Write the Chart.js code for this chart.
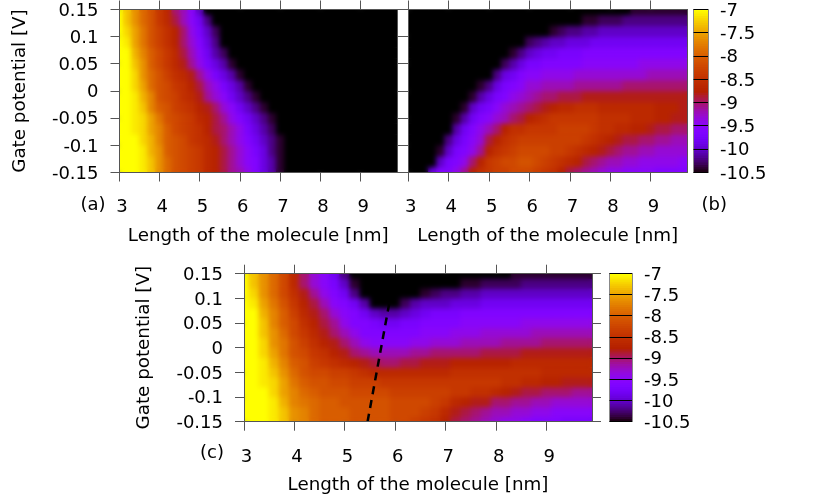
<!DOCTYPE html>
<html>
<head>
<meta charset="utf-8">
<style>
body { margin: 0; background: #fff; }
canvas { position: absolute; }
</style>
<script src="https://cdn.jsdelivr.net/npm/chart.js@4/dist/chart.umd.min.js"></script>
</head>
<body>
<canvas id="panelA" width="407" height="250" style="left:0;top:0"></canvas>
<canvas id="panelB" width="335" height="250" style="left:400px;top:0"></canvas>
<canvas id="barAB" width="140" height="190" style="left:690px;top:0"></canvas>
<canvas id="panelC" width="505" height="248" style="left:100px;top:250px"></canvas>
<canvas id="barC" width="225" height="175" style="left:605px;top:260px"></canvas>
<script>
var xCols = [3, 3.2, 3.4, 3.6, 3.8, 4, 4.2, 4.4, 4.6, 4.8, 5, 5.2, 5.4, 5.6, 5.8, 6, 6.2, 6.4, 6.6, 6.8, 7, 7.2, 7.4, 7.6, 7.8, 8, 8.2, 8.4, 8.6, 8.8, 9, 9.2, 9.4, 9.6, 9.8];
var yRows = [-0.15, -0.13, -0.11, -0.09, -0.07, -0.05, -0.03, -0.01, 0.01, 0.03, 0.05, 0.07, 0.09, 0.11, 0.13, 0.15];
var xTicks = [3, 4, 5, 6, 7, 8, 9];
var yTicks = [-0.15, -0.1, -0.05, 0, 0.05, 0.1, 0.15];
var cbTicks = [-10.5, -10, -9.5, -9, -8.5, -8, -7.5, -7];
var cbLevels = [-10.5, -10.45, -10.4, -10.35, -10.3, -10.25, -10.2, -10.15, -10.1, -10.05, -10, -9.95, -9.9, -9.85, -9.8, -9.75, -9.7, -9.65, -9.6, -9.55, -9.5, -9.45, -9.4, -9.35, -9.3, -9.25, -9.2, -9.15, -9.1, -9.05, -9, -8.95, -8.9, -8.85, -8.8, -8.75, -8.7, -8.65, -8.6, -8.55, -8.5, -8.45, -8.4, -8.35, -8.3, -8.25, -8.2, -8.15, -8.1, -8.05, -8, -7.95, -7.9, -7.85, -7.8, -7.75, -7.7, -7.65, -7.6, -7.55, -7.5, -7.45, -7.4, -7.35, -7.3, -7.25, -7.2, -7.15, -7.1, -7.05, -7];
var dashX = [5.45, 5.88];
var dashY = [-0.15, 0.09];

// one row per gate potential, bottom row first
var valuesA = [
  [-7,-7,-7,-7.1,-7.3,-7.6,-7.9,-8.1,-8.2,-8.3,-8.4,-8.6,-8.7,-8.9,-9.1,-9.2,-9.4,-9.6,-9.9,-10.1,-10.4,-11,-11,-11,-11,-11,-11,-11,-11,-11,-11,-11,-11,-11,-11],
  [-7,-7,-7,-7.1,-7.3,-7.6,-7.9,-8.1,-8.2,-8.3,-8.4,-8.6,-8.7,-8.9,-9.1,-9.3,-9.5,-9.6,-9.9,-10.1,-10.4,-11,-11,-11,-11,-11,-11,-11,-11,-11,-11,-11,-11,-11,-11],
  [-7,-7,-7,-7.1,-7.4,-7.6,-8,-8.1,-8.2,-8.3,-8.4,-8.6,-8.7,-8.9,-9.1,-9.3,-9.5,-9.7,-9.9,-10.2,-10.4,-11,-11,-11,-11,-11,-11,-11,-11,-11,-11,-11,-11,-11,-11],
  [-7,-7,-7,-7.2,-7.4,-7.7,-8,-8.1,-8.2,-8.4,-8.5,-8.6,-8.8,-9,-9.2,-9.4,-9.6,-9.8,-10,-10.2,-10.4,-11,-11,-11,-11,-11,-11,-11,-11,-11,-11,-11,-11,-11,-11],
  [-7,-7,-7.1,-7.2,-7.5,-7.7,-8,-8.2,-8.3,-8.4,-8.5,-8.7,-8.9,-9,-9.2,-9.4,-9.7,-9.9,-10.1,-10.3,-10.5,-11,-11,-11,-11,-11,-11,-11,-11,-11,-11,-11,-11,-11,-11],
  [-7,-7,-7.1,-7.2,-7.5,-7.8,-8.1,-8.2,-8.3,-8.4,-8.6,-8.7,-8.9,-9.1,-9.4,-9.6,-9.8,-10,-10.2,-10.4,-11,-11,-11,-11,-11,-11,-11,-11,-11,-11,-11,-11,-11,-11,-11],
  [-7,-7,-7.1,-7.3,-7.7,-8,-8.1,-8.3,-8.4,-8.5,-8.7,-8.8,-9,-9.3,-9.5,-9.8,-10,-10.2,-10.4,-11,-11,-11,-11,-11,-11,-11,-11,-11,-11,-11,-11,-11,-11,-11,-11],
  [-7,-7,-7.1,-7.4,-7.7,-8.1,-8.2,-8.3,-8.5,-8.6,-8.8,-9.1,-9.3,-9.5,-9.8,-10,-10.2,-10.4,-11,-11,-11,-11,-11,-11,-11,-11,-11,-11,-11,-11,-11,-11,-11,-11,-11],
  [-7,-7,-7.2,-7.5,-7.9,-8.1,-8.2,-8.4,-8.5,-8.7,-8.9,-9.2,-9.4,-9.7,-9.9,-10.1,-10.4,-11,-11,-11,-11,-11,-11,-11,-11,-11,-11,-11,-11,-11,-11,-11,-11,-11,-11],
  [-7,-7,-7.2,-7.6,-7.9,-8.1,-8.3,-8.5,-8.6,-8.8,-9.1,-9.4,-9.7,-9.9,-10.1,-10.4,-11,-11,-11,-11,-11,-11,-11,-11,-11,-11,-11,-11,-11,-11,-11,-11,-11,-11,-11],
  [-7,-7,-7.3,-7.6,-8,-8.2,-8.4,-8.6,-8.8,-9.1,-9.4,-9.7,-9.9,-10.1,-10.4,-11,-11,-11,-11,-11,-11,-11,-11,-11,-11,-11,-11,-11,-11,-11,-11,-11,-11,-11,-11],
  [-7,-7,-7.4,-7.7,-8,-8.2,-8.4,-8.6,-8.9,-9.2,-9.5,-9.8,-10.1,-10.3,-11,-11,-11,-11,-11,-11,-11,-11,-11,-11,-11,-11,-11,-11,-11,-11,-11,-11,-11,-11,-11],
  [-7,-7.1,-7.5,-7.8,-8.1,-8.3,-8.5,-8.7,-9,-9.3,-9.6,-9.9,-10.2,-10.5,-11,-11,-11,-11,-11,-11,-11,-11,-11,-11,-11,-11,-11,-11,-11,-11,-11,-11,-11,-11,-11],
  [-7,-7.2,-7.5,-7.8,-8.1,-8.3,-8.5,-8.7,-9,-9.4,-9.7,-10,-10.3,-11,-11,-11,-11,-11,-11,-11,-11,-11,-11,-11,-11,-11,-11,-11,-11,-11,-11,-11,-11,-11,-11],
  [-7,-7.3,-7.6,-7.9,-8.1,-8.4,-8.6,-8.9,-9.2,-9.5,-9.8,-10.2,-11,-11,-11,-11,-11,-11,-11,-11,-11,-11,-11,-11,-11,-11,-11,-11,-11,-11,-11,-11,-11,-11,-11],
  [-7,-7.3,-7.6,-7.9,-8.1,-8.4,-8.6,-9,-9.2,-9.5,-10,-10.5,-11,-11,-11,-11,-11,-11,-11,-11,-11,-11,-11,-11,-11,-11,-11,-11,-11,-11,-11,-11,-11,-11,-11]
];
var valuesB = [
  [-11,-11,-10.6,-9.9,-9.6,-9.6,-9.4,-9.1,-8.7,-8.5,-8.4,-8.3,-8.3,-8.2,-8.2,-8.2,-8.3,-8.4,-8.5,-8.7,-8.9,-9,-9.1,-9.2,-9.3,-9.4,-9.4,-9.5,-9.5,-9.5,-9.5,-9.6,-9.6,-9.6,-9.6],
  [-11,-11,-11,-10.5,-10,-9.7,-9.6,-9.4,-9,-8.7,-8.4,-8.3,-8.2,-8.2,-8.1,-8.1,-8.2,-8.3,-8.4,-8.5,-8.6,-8.7,-8.9,-9,-9.1,-9.2,-9.2,-9.3,-9.3,-9.4,-9.4,-9.4,-9.4,-9.4,-9.5],
  [-11,-11,-11,-11,-10.4,-10,-9.7,-9.6,-9.4,-9.1,-8.7,-8.5,-8.4,-8.3,-8.2,-8.2,-8.2,-8.2,-8.3,-8.3,-8.4,-8.5,-8.6,-8.7,-8.8,-8.9,-9,-9.1,-9.1,-9.2,-9.2,-9.3,-9.3,-9.3,-9.3],
  [-11,-11,-11,-11,-10.6,-10.2,-9.9,-9.7,-9.5,-9.3,-8.9,-8.7,-8.5,-8.4,-8.3,-8.3,-8.3,-8.3,-8.3,-8.3,-8.3,-8.3,-8.4,-8.5,-8.6,-8.7,-8.8,-8.9,-8.9,-9,-9,-9.1,-9.1,-9.2,-9.2],
  [-11,-11,-11,-11,-11,-10.5,-10.1,-9.8,-9.6,-9.4,-9.2,-9,-8.7,-8.5,-8.5,-8.4,-8.4,-8.4,-8.4,-8.3,-8.3,-8.3,-8.3,-8.4,-8.5,-8.5,-8.6,-8.6,-8.7,-8.7,-8.8,-8.9,-8.9,-9,-9],
  [-11,-11,-11,-11,-11,-11,-10.4,-10.1,-9.8,-9.6,-9.5,-9.3,-9.2,-9,-8.9,-8.7,-8.6,-8.5,-8.4,-8.4,-8.4,-8.4,-8.4,-8.4,-8.5,-8.5,-8.5,-8.5,-8.6,-8.6,-8.6,-8.7,-8.7,-8.8,-8.8],
  [-11,-11,-11,-11,-11,-11,-11,-10.4,-10,-9.8,-9.7,-9.5,-9.3,-9.2,-9.1,-9,-8.9,-8.8,-8.7,-8.6,-8.6,-8.5,-8.5,-8.5,-8.6,-8.6,-8.6,-8.6,-8.6,-8.6,-8.6,-8.7,-8.7,-8.7,-8.8],
  [-11,-11,-11,-11,-11,-11,-11,-11,-10.4,-10.1,-9.9,-9.7,-9.6,-9.4,-9.3,-9.2,-9.1,-9,-9,-8.9,-8.9,-8.9,-8.8,-8.8,-8.8,-8.8,-8.8,-8.8,-8.8,-8.8,-8.8,-8.8,-8.8,-8.8,-8.8],
  [-11,-11,-11,-11,-11,-11,-11,-11,-11,-10.4,-10.2,-9.9,-9.7,-9.6,-9.5,-9.3,-9.3,-9.2,-9.2,-9.2,-9.2,-9.1,-9.1,-9.1,-9.1,-9.1,-9.1,-9,-9,-9,-9,-9,-9,-9,-9],
  [-11,-11,-11,-11,-11,-11,-11,-11,-11,-11,-10.5,-10.2,-9.9,-9.8,-9.6,-9.5,-9.5,-9.4,-9.4,-9.4,-9.4,-9.3,-9.3,-9.3,-9.3,-9.3,-9.3,-9.3,-9.3,-9.3,-9.2,-9.2,-9.2,-9.2,-9.2],
  [-11,-11,-11,-11,-11,-11,-11,-11,-11,-11,-11,-11,-10.3,-10.1,-9.9,-9.7,-9.7,-9.6,-9.6,-9.6,-9.6,-9.6,-9.5,-9.5,-9.5,-9.5,-9.5,-9.5,-9.5,-9.4,-9.4,-9.4,-9.4,-9.4,-9.4],
  [-11,-11,-11,-11,-11,-11,-11,-11,-11,-11,-11,-11,-11,-10.4,-10.2,-10,-9.9,-9.8,-9.8,-9.7,-9.7,-9.7,-9.6,-9.6,-9.6,-9.6,-9.6,-9.6,-9.6,-9.6,-9.6,-9.6,-9.6,-9.6,-9.6],
  [-11,-11,-11,-11,-11,-11,-11,-11,-11,-11,-11,-11,-11,-11,-10.6,-10.3,-10.2,-10.1,-10,-10,-9.9,-9.9,-9.9,-9.8,-9.8,-9.8,-9.8,-9.8,-9.8,-9.8,-9.8,-9.8,-9.8,-9.8,-9.8],
  [-11,-11,-11,-11,-11,-11,-11,-11,-11,-11,-11,-11,-11,-11,-11,-11,-11,-10.5,-10.4,-10.3,-10.2,-10.2,-10.1,-10.1,-10,-10,-10,-10,-10,-10,-10,-10,-10,-10,-10],
  [-11,-11,-11,-11,-11,-11,-11,-11,-11,-11,-11,-11,-11,-11,-11,-11,-11,-11,-11,-11,-11,-10.5,-10.4,-10.4,-10.3,-10.3,-10.3,-10.2,-10.2,-10.2,-10.2,-10.2,-10.2,-10.2,-10.2],
  [-11,-11,-11,-11,-11,-11,-11,-11,-11,-11,-11,-11,-11,-11,-11,-11,-11,-11,-11,-11,-11,-11,-11,-11,-11,-10.5,-10.5,-10.5,-10.4,-10.4,-10.4,-10.4,-10.4,-10.4,-10.4]
];
var valuesC = [
  [-7,-7,-7,-7.1,-7.3,-7.6,-7.7,-7.9,-8,-8,-8,-8.1,-8.1,-8.1,-8.1,-8.2,-8.2,-8.3,-8.4,-8.5,-8.7,-8.9,-9,-9.1,-9.2,-9.3,-9.4,-9.4,-9.5,-9.6,-9.6,-9.6,-9.7,-9.7,-9.7],
  [-7,-7,-7,-7.1,-7.3,-7.6,-7.7,-7.9,-8,-8,-8,-8.1,-8.1,-8.1,-8.1,-8.2,-8.2,-8.2,-8.3,-8.4,-8.6,-8.8,-8.9,-9,-9.1,-9.2,-9.2,-9.3,-9.3,-9.4,-9.4,-9.5,-9.5,-9.5,-9.5],
  [-7,-7,-7,-7.1,-7.4,-7.7,-7.8,-7.9,-8,-8,-8.1,-8.1,-8.1,-8.1,-8.1,-8.2,-8.2,-8.2,-8.2,-8.3,-8.4,-8.6,-8.7,-8.8,-8.8,-9,-9,-9.1,-9.1,-9.2,-9.2,-9.3,-9.3,-9.3,-9.3],
  [-7,-7,-7,-7.2,-7.5,-7.7,-7.9,-8,-8.1,-8.1,-8.1,-8.2,-8.2,-8.2,-8.2,-8.3,-8.3,-8.3,-8.3,-8.3,-8.3,-8.4,-8.4,-8.5,-8.5,-8.6,-8.7,-8.8,-8.9,-8.9,-9,-9,-9,-9.1,-9.1],
  [-7,-7,-7.1,-7.2,-7.5,-7.8,-8,-8.1,-8.1,-8.2,-8.2,-8.3,-8.3,-8.3,-8.4,-8.4,-8.4,-8.4,-8.4,-8.4,-8.4,-8.4,-8.4,-8.4,-8.4,-8.4,-8.5,-8.5,-8.6,-8.6,-8.7,-8.7,-8.8,-8.8,-8.8],
  [-7,-7,-7.1,-7.3,-7.6,-7.9,-8.1,-8.2,-8.2,-8.3,-8.3,-8.4,-8.5,-8.6,-8.6,-8.6,-8.6,-8.6,-8.6,-8.6,-8.6,-8.5,-8.5,-8.5,-8.5,-8.5,-8.5,-8.5,-8.5,-8.5,-8.6,-8.6,-8.6,-8.6,-8.6],
  [-7,-7,-7.1,-7.4,-7.7,-8,-8.1,-8.3,-8.4,-8.5,-8.6,-8.7,-8.8,-8.9,-9,-9,-8.9,-8.9,-8.8,-8.8,-8.8,-8.7,-8.7,-8.7,-8.7,-8.7,-8.7,-8.6,-8.6,-8.6,-8.6,-8.6,-8.6,-8.6,-8.6],
  [-7,-7,-7.2,-7.5,-7.8,-8.1,-8.2,-8.4,-8.5,-8.7,-8.8,-9,-9.1,-9.2,-9.2,-9.2,-9.2,-9.1,-9.1,-9,-9,-9,-9,-9,-8.9,-8.9,-8.9,-8.9,-8.8,-8.8,-8.8,-8.8,-8.8,-8.8,-8.8],
  [-7,-7,-7.2,-7.6,-7.8,-8.1,-8.3,-8.5,-8.7,-8.8,-9,-9.2,-9.4,-9.5,-9.5,-9.5,-9.5,-9.4,-9.4,-9.3,-9.3,-9.3,-9.2,-9.2,-9.2,-9.2,-9.1,-9.1,-9.1,-9.1,-9,-9,-9,-9,-9],
  [-7,-7,-7.3,-7.6,-7.9,-8.2,-8.4,-8.6,-8.8,-9,-9.2,-9.4,-9.6,-9.6,-9.6,-9.6,-9.6,-9.6,-9.5,-9.5,-9.5,-9.4,-9.4,-9.4,-9.3,-9.3,-9.3,-9.3,-9.3,-9.2,-9.2,-9.2,-9.2,-9.2,-9.2],
  [-7,-7,-7.3,-7.7,-8,-8.2,-8.5,-8.7,-8.9,-9.1,-9.4,-9.6,-9.6,-9.7,-9.8,-9.8,-9.7,-9.7,-9.6,-9.6,-9.6,-9.6,-9.5,-9.5,-9.5,-9.5,-9.5,-9.5,-9.4,-9.4,-9.4,-9.4,-9.4,-9.4,-9.4],
  [-7,-7,-7.4,-7.7,-8,-8.3,-8.6,-8.8,-9,-9.3,-9.5,-9.6,-9.8,-10,-10.1,-10.1,-10,-9.9,-9.8,-9.7,-9.7,-9.7,-9.6,-9.6,-9.6,-9.6,-9.6,-9.6,-9.6,-9.6,-9.6,-9.6,-9.6,-9.6,-9.6],
  [-7,-7.1,-7.5,-7.8,-8.1,-8.4,-8.7,-8.9,-9.2,-9.5,-9.6,-9.8,-10.1,-10.5,-11,-10.6,-10.3,-10.1,-10,-10,-10,-9.9,-9.9,-9.9,-9.8,-9.8,-9.8,-9.8,-9.8,-9.8,-9.8,-9.8,-9.8,-9.8,-9.8],
  [-7,-7.2,-7.6,-7.9,-8.2,-8.5,-8.8,-9.1,-9.4,-9.6,-9.8,-10.2,-11,-11,-11,-11,-10.9,-10.5,-10.4,-10.3,-10.2,-10.2,-10.1,-10.1,-10,-10,-10,-10,-10,-10,-10,-10,-10,-10,-10],
  [-7,-7.3,-7.6,-7.9,-8.2,-8.6,-9,-9.3,-9.5,-9.7,-10,-10.4,-11,-11,-11,-11,-11,-11,-11,-11,-10.5,-10.5,-10.4,-10.4,-10.3,-10.3,-10.3,-10.3,-10.2,-10.2,-10.2,-10.2,-10.2,-10.2,-10.2],
  [-7,-7.3,-7.6,-7.9,-8.2,-8.6,-9,-9.3,-9.5,-9.8,-10.2,-10.6,-11,-11,-11,-11,-11,-11,-11,-11,-11,-11,-11,-11,-11,-10.5,-10.5,-10.4,-10.4,-10.4,-10.4,-10.4,-10.4,-10.4,-10.4]
];

Chart.defaults.font.family = '"DejaVu Sans", sans-serif';
Chart.defaults.font.size = 18;
Chart.defaults.color = '#000';
Chart.defaults.animation = false;

var tickGrey = '#555';
var titleFont = { size: 18.3 };

// gnuplot default palette (rgbformulae 7,5,15) over -10.5 .. -7
function heatColor(v) {
  var t = Math.min(1, Math.max(0, (v + 10.5) / 3.5));
  var r = Math.sqrt(t), g = t * t * t, b = Math.max(0, Math.sin(2 * Math.PI * t));
  return 'rgb(' + Math.round(r * 255) + ',' + Math.round(g * 255) + ',' + Math.round(b * 255) + ')';
}

function fixSize(n) {
  return function (s) {
    if (s.isHorizontal()) s.height = n; else s.width = n;
    s.paddingLeft = s.paddingRight = s.paddingTop = s.paddingBottom = 0;
  };
}

function setTicks(list) {
  return function (s) {
    s.ticks = list.map(function (v) { return { value: v }; });
  };
}

function tagPlugin(text, dx, dy, fromRight) {
  return {
    id: 'tag',
    afterDraw: function (chart) {
      var a = chart.chartArea, c = chart.ctx;
      c.save();
      c.font = Chart.defaults.font.size + 'px "DejaVu Sans"';
      c.fillStyle = '#000';
      c.textAlign = 'center';
      c.textBaseline = 'middle';
      c.fillText(text, (fromRight ? a.right : a.left) + dx, a.bottom + dy);
      c.restore();
    }
  };
}

// softens the cell edges inside the plot once the bars are drawn, before the dashed line
var smoothPlugin = {
  id: 'smooth',
  afterDatasetDraw: function (chart, args) {
    if (args.index !== 0) return;
    var a = chart.chartArea, c = chart.ctx;
    c.save();
    c.beginPath();
    c.rect(a.left, a.top, a.right - a.left, a.bottom - a.top);
    c.clip();
    c.filter = 'blur(2.5px)';
    c.drawImage(chart.canvas, 0, 0);
    c.restore();
  }
};

function axis(position, min, max, list, size, tickLen) {
  return {
    type: 'linear', position: position, min: min, max: max, offset: false,
    afterBuildTicks: setTicks(list), afterFit: fixSize(size),
    grid: { drawOnChartArea: false, drawTicks: tickLen > 0, tickLength: tickLen, color: tickGrey, offset: false },
    border: { color: tickGrey, z: 1 },
    ticks: { display: false, autoSkip: false, maxRotation: 0, padding: 15.5, callback: function (v) { return String(v); } }
  };
}

function heatmap(id, rows, box, tag, lines) {
  var cells = [];
  rows.forEach(function (row, j) {
    row.forEach(function (v, i) {
      cells.push({ x: xCols[i], y: [yRows[j] - 0.0105, yRows[j] + 0.0105], v: v });
    });
  });
  var datasets = [{
    type: 'bar', data: cells, order: 2, borderWidth: 0,
    barPercentage: 1.1, categoryPercentage: 1,
    backgroundColor: function (c) { return heatColor(c.raw ? c.raw.v : -11); }
  }];
  if (lines) datasets.push(lines);
  var scales = {
    x: axis('bottom', 3, 9.9, xTicks, box.bottom, 9),
    x2: axis('top', 3, 9.9, xTicks, box.top, 9),
    y: axis('left', -0.15, 0.15, yTicks, box.left, box.leftTick),
    y2: axis('right', -0.15, 0.15, yTicks, box.right, box.rightTick)
  };
  scales.x.ticks.display = true;
  scales.x.ticks.labelOffset = 2.5;
  scales.x.title = { display: true, text: 'Length of the molecule [nm]', font: titleFont, padding: { top: 0, bottom: box.titlePad } };
  if (box.yLabels) {
    scales.y.ticks.display = true;
    scales.y.ticks.padding = 12;
    scales.y.ticks.labelOffset = 1.5;
    scales.y.title = { display: true, text: 'Gate potential [V]', font: titleFont, padding: { top: box.yTitlePad, bottom: 0 } };
  }
  return new Chart(document.getElementById(id), {
    type: 'bar',
    data: { datasets: datasets },
    options: {
      responsive: false,
      layout: { autoPadding: false, padding: 0 },
      plugins: { legend: { display: false }, tooltip: { enabled: false } },
      scales: scales
    },
    plugins: [smoothPlugin, tagPlugin(tag.text, tag.dx, tag.dy, tag.fromRight)]
  });
}

function colorbar(id, box) {
  var cells = cbLevels.map(function (v) {
    return { x: 0.5, y: [v - 0.03, v + 0.03], v: v };
  });
  var scales = {
    x: axis('bottom', 0, 1, [], box.bottom, 0),
    x2: axis('top', 0, 1, [], box.top, 0),
    y2: axis('left', -10.5, -7, cbTicks, box.left, 0),
    y: axis('right', -10.5, -7, cbTicks, box.right, 0)
  };
  scales.x.border.color = scales.x2.border.color = scales.y.border.color = scales.y2.border.color = '#888';
  scales.y.ticks.display = true;
  scales.y.ticks.padding = 12;
  scales.y.ticks.labelOffset = 1.5;
  scales.y.grid = { drawOnChartArea: true, drawTicks: false, color: '#000', z: 1 };
  return new Chart(document.getElementById(id), {
    type: 'bar',
    data: { datasets: [{ data: cells, borderWidth: 0, barThickness: 40, backgroundColor: function (c) { return heatColor(c.raw ? c.raw.v : -11); } }] },
    options: {
      responsive: false,
      layout: { autoPadding: false, padding: 0 },
      plugins: { legend: { display: false }, tooltip: { enabled: false } },
      scales: scales
    }
  });
}

heatmap('panelA', valuesA, { left: 119.5, right: 10, top: 9.5, bottom: 77.5, leftTick: 9, rightTick: 9, yLabels: true, titlePad: 2.7, yTitlePad: 9.3 },
  { text: '(a)', dx: -26.5, dy: 32.5 });
heatmap('panelB', valuesB, { left: 8.3, right: 47.7, top: 9.5, bottom: 77.5, leftTick: 8, rightTick: 0, titlePad: 2.7 },
  { text: '(b)', dx: 27, dy: 32.5, fromRight: true });
colorbar('barAB', { left: 3.5, right: 122, top: 9.5, bottom: 17.5 });
heatmap('panelC', valuesC, { left: 144, right: 13, top: 23.7, bottom: 76.3, leftTick: 9, rightTick: 9, yLabels: true, titlePad: 2, yTitlePad: 33.3 },
  { text: '(c)', dx: -32, dy: 32 },
  { type: 'line', order: 1, data: dashX.map(function (x, i) { return { x: x, y: dashY[i] }; }), borderColor: '#000', borderWidth: 2.5, borderDash: [8, 6], pointRadius: 0, fill: false });
colorbar('barC', { left: 4.5, right: 198, top: 13.7, bottom: 13.3 });
</script>
</body>
</html>
